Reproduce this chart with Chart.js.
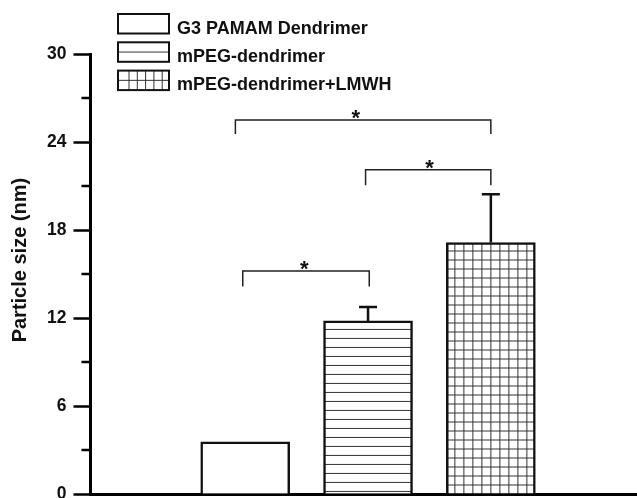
<!DOCTYPE html>
<html lang="en">
<head>
  <meta charset="UTF-8" />
  <title>Particle size</title>
  <script src="https://cdn.jsdelivr.net/npm/chart.js"></script>
  <style>
    html, body { margin: 0; padding: 0; background: #fff; }
  </style>
</head>
<body>
  <canvas id="chart" width="637" height="498"></canvas>
  <script>
    const groups = ['G3 PAMAM Dendrimer', 'mPEG-dendrimer', 'mPEG-dendrimer+LMWH'];
    const groupIndex = [1, 2, 3];
    const sizes = [3.55, 11.8, 17.15];
    const errors = [0, 0.95, 3.28];
    const minorTicks = [3, 9, 15, 21, 27];
    // significance brackets (x in group index units, y in nm)
    const brackets = [
      { from: 0.98, to: 2.01, y: 15.2, leg: 14.15, star: 1.48 },
      { from: 1.98, to: 3.0, y: 22.1, leg: 21.05, star: 2.5 },
      { from: 0.92, to: 3.0, y: 25.5, leg: 24.55, star: 1.9 }
    ];

    const FONT = "'Liberation Sans', Arial, sans-serif";

    function makePattern(withVertical) {
      const c = document.createElement('canvas');
      c.width = 9;
      c.height = 9;
      const g = c.getContext('2d');
      g.fillStyle = '#fff';
      g.fillRect(0, 0, 9, 9);
      g.fillStyle = '#333';
      g.fillRect(0, 8, 9, 1);
      if (withVertical) g.fillRect(8, 0, 1, 9);
      return g.createPattern(c, 'repeat');
    }

    const stripes = makePattern(false);
    const squares = makePattern(true);
    const fills = ['#ffffff', stripes, squares];

    // keep hatch lines lined up with each bar's top-left corner
    const alignPatterns = {
      id: 'alignPatterns',
      beforeDatasetsDraw(chart) {
        const meta = chart.getDatasetMeta(0);
        meta.data.forEach((bar, i) => {
          const f = fills[i];
          if (typeof f === 'string') return;
          const left = bar.x - bar.width / 2;
          f.setTransform(new DOMMatrix([1, 0, 0, 1, left, bar.y]));
        });
      }
    };

    const extras = {
      id: 'extras',
      afterDatasetsDraw(chart) {
        const { ctx, scales: { x, y } } = chart;
        const meta = chart.getDatasetMeta(0);
        ctx.save();

        // error bars (upper only)
        ctx.strokeStyle = '#111';
        ctx.lineWidth = 2.5;
        meta.data.forEach((bar, i) => {
          if (!errors[i]) return;
          const top = y.getPixelForValue(sizes[i] + errors[i]);
          ctx.beginPath();
          ctx.moveTo(bar.x, bar.y);
          ctx.lineTo(bar.x, top);
          ctx.moveTo(bar.x - 9, top);
          ctx.lineTo(bar.x + 9, top);
          ctx.stroke();
        });

        // significance brackets
        ctx.lineWidth = 1.5;
        ctx.strokeStyle = '#222';
        ctx.fillStyle = '#111';
        ctx.font = 'bold 22px ' + FONT;
        ctx.textAlign = 'center';
        ctx.textBaseline = 'alphabetic';
        brackets.forEach(b => {
          const x1 = x.getPixelForValue(b.from);
          const x2 = x.getPixelForValue(b.to);
          const yl = y.getPixelForValue(b.y);
          const yb = y.getPixelForValue(b.leg);
          ctx.beginPath();
          ctx.moveTo(x1, yb);
          ctx.lineTo(x1, yl);
          ctx.lineTo(x2, yl);
          ctx.lineTo(x2, yb);
          ctx.stroke();
          ctx.fillText('*', x.getPixelForValue(b.star), yl + 5);
        });
        ctx.restore();
      },
      afterDraw(chart) {
        const { ctx, scales: { y }, chartArea } = chart;
        ctx.save();

        // minor ticks on the y axis
        ctx.strokeStyle = '#000';
        ctx.lineWidth = 2.5;
        minorTicks.forEach(v => {
          const py = y.getPixelForValue(v);
          ctx.beginPath();
          ctx.moveTo(chartArea.left - 9, py);
          ctx.lineTo(chartArea.left, py);
          ctx.stroke();
        });

        // legend
        const bx = 118, bw = 51, bh = 19.5, rowGap = 28.3, top0 = 14;
        ctx.font = 'bold 18px ' + FONT;
        ctx.textAlign = 'left';
        ctx.textBaseline = 'alphabetic';
        groups.forEach((label, i) => {
          const by = top0 + i * rowGap;
          ctx.fillStyle = '#fff';
          ctx.fillRect(bx, by, bw, bh);
          ctx.strokeStyle = '#333';
          ctx.lineWidth = 1;
          ctx.beginPath();
          if (i > 0) {
            ctx.moveTo(bx, by + bh / 2);
            ctx.lineTo(bx + bw, by + bh / 2);
          }
          if (i === 2) {
            for (let vx = bx + 11; vx < bx + bw - 2; vx += 8.3) {
              ctx.moveTo(vx, by);
              ctx.lineTo(vx, by + bh);
            }
          }
          ctx.stroke();
          ctx.strokeStyle = '#111';
          ctx.lineWidth = 2;
          ctx.strokeRect(bx, by, bw, bh);
          ctx.fillStyle = '#111';
          ctx.fillText(label, 177, by + bh);
        });
        ctx.restore();
      }
    };

    new Chart(document.getElementById('chart'), {
      type: 'bar',
      data: {
        datasets: [{
          data: groupIndex.map((gx, i) => ({ x: gx, y: sizes[i] })),
          backgroundColor: fills,
          borderColor: '#111',
          borderWidth: 2.5,
          barThickness: 89
        }]
      },
      options: {
        responsive: false,
        animation: false,
        layout: { padding: { left: 4, top: 54, right: 0, bottom: 4 } },
        plugins: {
          legend: { display: false },
          tooltip: { enabled: false }
        },
        scales: {
          x: {
            type: 'linear',
            offset: false,
            min: -0.26,
            max: 4.19,
            ticks: { display: false },
            grid: { display: false, drawTicks: false },
            border: { color: '#000', width: 3 }
          },
          y: {
            min: 0,
            max: 30,
            // the "0" label may run off the bottom edge, as in the original
            afterFit(scale) {
              scale.paddingTop = 0;
              scale.paddingBottom = 0;
            },
            ticks: {
              stepSize: 6,
              color: '#111',
              padding: 7,
              font: { family: FONT, size: 17.5, weight: 'bold' }
            },
            grid: {
              drawOnChartArea: false,
              tickLength: 17,
              tickWidth: 2.5,
              tickColor: '#000'
            },
            border: { color: '#000', width: 3 },
            title: {
              display: true,
              // leading spaces nudge the title a little above the axis middle
              text: '     Particle size (nm)',
              color: '#111',
              font: { family: FONT, size: 20, weight: 'bold' },
              padding: { top: 4, bottom: 8 }
            }
          }
        }
      },
      plugins: [alignPatterns, extras]
    });
  </script>
</body>
</html>
